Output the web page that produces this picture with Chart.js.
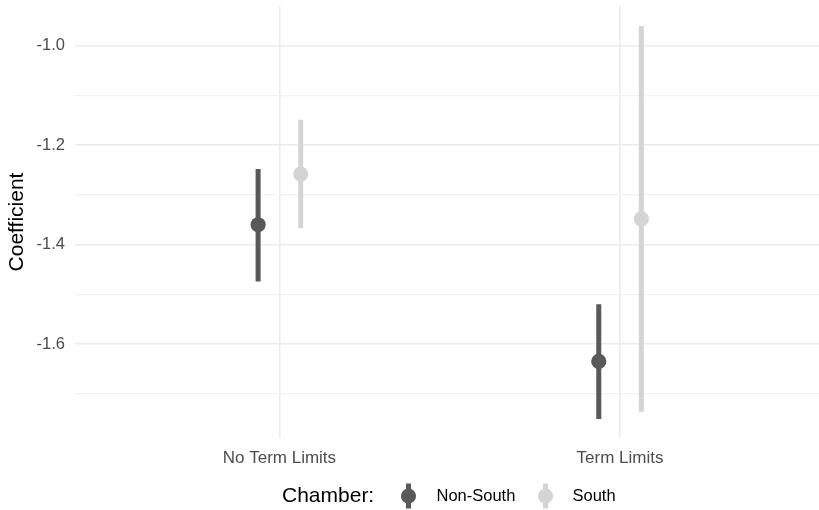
<!DOCTYPE html>
<html>
<head>
<meta charset="utf-8">
<script src="https://cdn.jsdelivr.net/npm/chart.js@4/dist/chart.umd.min.js"></script>
<style>
  html, body { margin: 0; padding: 0; background: #ffffff; }
  #wrap { width: 819px; height: 510px; position: relative; }
</style>
</head>
<body>
<div id="wrap"><canvas id="chart" width="819" height="510"></canvas></div>
<script>
// Term-limit categories on the x axis
const categories = ['No Term Limits', 'Term Limits'];
// Chamber groups shown in the legend
const chambers = ['Non-South', 'South'];

// Coefficient estimates and interval bounds per chamber group
const nonSouthEst  = [-1.360, -1.635];
const nonSouthLow  = [-1.474, -1.751];
const nonSouthHigh = [-1.248, -1.520];

const southEst  = [-1.258, -1.348];
const southLow  = [-1.367, -1.736];
const southHigh = [-1.149, -0.960];

// Y tick values (labelled every 0.2, minor lines between)
const yMajorTicks = [-1.6, -1.4, -1.2, -1.0];
const yMinorTicks = [-1.7, -1.5, -1.3, -1.1];

const colors = { 'Non-South': '#595959', 'South': '#d4d4d4' };
const dodge = 0.0625;
const FONT = '"Liberation Sans", Arial, Helvetica, sans-serif';

function rangeData(low, high, offset) {
  const out = [];
  low.forEach((lo, i) => {
    out.push({ x: i + 1 + offset, y: lo });
    out.push({ x: i + 1 + offset, y: high[i] });
    out.push({ x: i + 1 + offset, y: null });
  });
  return out;
}
function pointData(est, offset) {
  return est.map((v, i) => ({ x: i + 1 + offset, y: v }));
}

const groups = [
  { name: chambers[0], est: nonSouthEst, low: nonSouthLow, high: nonSouthHigh, off: -dodge },
  { name: chambers[1], est: southEst, low: southLow, high: southHigh, off: dodge }
];

const datasets = [];
groups.forEach(g => {
  datasets.push({
    label: g.name + ' interval',
    data: rangeData(g.low, g.high, g.off),
    showLine: true,
    spanGaps: false,
    borderColor: colors[g.name],
    borderWidth: 5,
    borderCapStyle: 'butt',
    pointRadius: 0,
    pointHoverRadius: 0
  });
  datasets.push({
    label: g.name,
    data: pointData(g.est, g.off),
    showLine: false,
    backgroundColor: colors[g.name],
    borderColor: colors[g.name],
    borderWidth: 0,
    pointRadius: 7.6,
    pointHoverRadius: 7.6
  });
});

const allY = [...yMinorTicks, ...yMajorTicks].sort((a, b) => a - b);
const isMajor = v => yMajorTicks.some(m => Math.abs(m - v) < 1e-6);

// Legend drawn under the plot: title, then a pointrange key per chamber
const legendPlugin = {
  id: 'chamberLegend',
  afterDraw(chart) {
    const ctx = chart.ctx;
    const cy = 496;
    ctx.save();
    ctx.textBaseline = 'middle';
    ctx.textAlign = 'left';
    ctx.fillStyle = '#000000';
    ctx.font = '21px ' + FONT;
    ctx.fillText('Chamber:', 282, cy);
    const keys = [
      { name: chambers[0], kx: 408.5, tx: 436.5 },
      { name: chambers[1], kx: 545.5, tx: 572.5 }
    ];
    keys.forEach(k => {
      ctx.strokeStyle = colors[k.name];
      ctx.fillStyle = colors[k.name];
      ctx.lineWidth = 5;
      ctx.lineCap = 'butt';
      ctx.beginPath();
      ctx.moveTo(k.kx, cy - 12.5);
      ctx.lineTo(k.kx, cy + 12.5);
      ctx.stroke();
      ctx.beginPath();
      ctx.arc(k.kx, cy, 7.6, 0, Math.PI * 2);
      ctx.fill();
      ctx.fillStyle = '#000000';
      ctx.font = '16.5px ' + FONT;
      ctx.fillText(k.name, k.tx, cy);
    });
    ctx.restore();
  }
};

const bgPlugin = {
  id: 'bg',
  beforeDraw(chart) {
    const ctx = chart.ctx;
    ctx.save();
    ctx.fillStyle = '#ffffff';
    ctx.fillRect(0, 0, chart.width, chart.height);
    ctx.restore();
  }
};

new Chart(document.getElementById('chart'), {
  type: 'scatter',
  data: { datasets },
  plugins: [bgPlugin, legendPlugin],
  options: {
    responsive: false,
    animation: false,
    layout: { autoPadding: false, padding: { top: 6, right: 0, bottom: 0, left: 0 } },
    plugins: { legend: { display: false }, tooltip: { enabled: false } },
    scales: {
      x: {
        type: 'linear',
        min: 0.4,
        max: 2.584,
        afterBuildTicks(scale) {
          scale.ticks = categories.map((c, i) => ({ value: i + 1 }));
        },
        afterFit(scale) {
          scale.height = 72;
          scale.paddingLeft = 0;
          scale.paddingRight = 0;
        },
        ticks: {
          callback: v => categories[Math.round(v) - 1],
          color: '#4d4d4d',
          font: { family: FONT, size: 17 },
          padding: 10,
          maxRotation: 0,
          autoSkip: false
        },
        grid: { color: '#ebebeb', lineWidth: 1.5, drawTicks: false },
        border: { display: false }
      },
      y: {
        type: 'linear',
        min: -1.789,
        max: -0.920,
        afterBuildTicks(scale) {
          scale.ticks = allY.map(v => ({ value: v }));
        },
        afterFit(scale) {
          scale.width = 75;
          scale.paddingTop = 0;
          scale.paddingBottom = 0;
        },
        ticks: {
          callback: v => isMajor(v) ? v.toFixed(1) : '',
          color: '#4d4d4d',
          font: { family: FONT, size: 16.5 },
          padding: 10,
          autoSkip: false
        },
        grid: {
          drawTicks: false,
          color: ctx => isMajor(ctx.tick.value) ? '#ebebeb' : '#f2f2f2',
          lineWidth: ctx => isMajor(ctx.tick.value) ? 1.5 : 1.2
        },
        border: { display: false },
        title: {
          display: true,
          text: 'Coefficient',
          color: '#000000',
          font: { family: FONT, size: 21 },
          padding: { top: 5, bottom: 0 }
        }
      }
    }
  }
});
</script>
</body>
</html>
